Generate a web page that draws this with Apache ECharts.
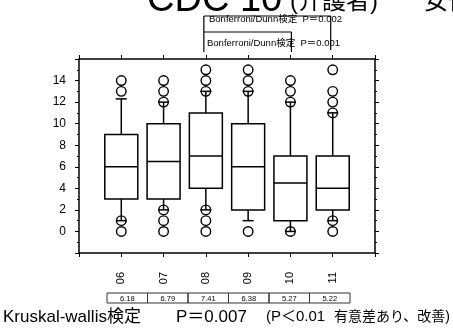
<!DOCTYPE html>
<html><head><meta charset="utf-8">
<script src="https://cdn.jsdelivr.net/npm/echarts@6/dist/echarts.min.js"></script>
<style>html,body{margin:0;padding:0;background:#fff}#c{width:453px;height:331px}</style>
</head><body><div id="c"></div>
<script>
const categories = ['', '06', '07', '08', '09', '10', '11', ''];
const boxLow  = [1, 2, 2, 1, 0, 1];
const boxQ1   = [3, 3, 4, 2, 1, 2];
const boxMed  = [6, 6.5, 7, 6, 4.5, 4];
const boxQ3   = [9, 10, 11, 10, 7, 7];
const boxHigh = [12.3, 12, 13, 13, 12, 11];
const outliers06 = [0, 1, 13, 14];
const outliers07 = [0, 1, 2, 12, 13, 14];
const outliers08 = [0, 1, 2, 13, 14, 15];
const outliers09 = [0, 13, 14, 15];
const outliers10 = [0, 12, 13, 14];
const outliers11 = [0, 1, 11, 12, 13, 15];
const means = ['6.18', '6.79', '7.41', '6.38', '5.27', '5.22'];
const yTicks = [0, 2, 4, 6, 8, 10, 12, 14];
const titleMain = 'CDC 10';
const titleSub = '(介護者)';
const titleSex = '女性';
const test1 = 'Bonferroni/Dunn検定  P＝0.002';
const test2 = 'Bonferroni/Dunn検定  P＝0.001';
const footerParts = ['Kruskal-wallis検定', 'P＝0.007', '(P＜0.01', '有意差あり、改善)'];

const outlierSets = [outliers06, outliers07, outliers08, outliers09, outliers10, outliers11];
const boxData = boxLow.map((v, i) => [i + 1, boxLow[i], boxQ1[i], boxMed[i], boxQ3[i], boxHigh[i]]);
const scatterData = [];
outlierSets.forEach((arr, i) => arr.forEach(v => scatterData.push([i + 1, v])));

const chart = echarts.init(document.getElementById('c'), null, {renderer: 'canvas'});
const axisFont = "'Liberation Sans Narrow','Liberation Sans',Arial,sans-serif";
const lineStyle = {color: '#000', width: 1.5};

chart.setOption({
  animation: false,
  backgroundColor: '#fff',
  grid: {left: 79, right: 78, top: 59, bottom: 78},
  xAxis: [{
    type: 'category', data: categories, boundaryGap: false, position: 'bottom',
    axisLine: {onZero: false, lineStyle: lineStyle},
    axisTick: {show: true, length: 4, lineStyle: {color: '#000', width: 1}},
    axisLabel: {rotate: 90, margin: 19, color: '#000', fontSize: 11, fontFamily: axisFont, interval: 0},
    splitLine: {show: false}
  }, {
    type: 'category', data: categories, boundaryGap: false, position: 'top',
    axisLine: {onZero: false, lineStyle: lineStyle},
    axisTick: {show: true, length: 4, lineStyle: {color: '#000', width: 1}},
    axisLabel: {show: false}, splitLine: {show: false}
  }],
  yAxis: [{
    type: 'value', min: -2, max: 16, interval: 2, position: 'left',
    axisLine: {show: true, onZero: false, lineStyle: lineStyle},
    axisTick: {show: true, length: 4, lineStyle: {color: '#000', width: 1}},
    minorTick: {show: true, splitNumber: 2, length: 2, lineStyle: {color: '#000', width: 1}},
    axisLabel: {margin: 13, color: '#000', fontSize: 12, fontFamily: axisFont,
      formatter: v => yTicks.indexOf(v) >= 0 ? String(v) : ''},
    splitLine: {show: false}
  }, {
    type: 'value', min: -2, max: 16, interval: 2, position: 'right',
    axisLine: {show: true, onZero: false, lineStyle: lineStyle},
    axisTick: {show: true, length: 4, lineStyle: {color: '#000', width: 1}},
    minorTick: {show: true, splitNumber: 2, length: 2, lineStyle: {color: '#000', width: 1}},
    axisLabel: {show: false}, splitLine: {show: false}
  }],
  series: [{
    type: 'custom',
    xAxisIndex: 0, yAxisIndex: 0,
    data: boxData,
    z: 3,
    renderItem: function (params, api) {
      const x = api.value(0);
      const pLow = api.coord([x, api.value(1)]);
      const pQ1 = api.coord([x, api.value(2)]);
      const pMed = api.coord([x, api.value(3)]);
      const pQ3 = api.coord([x, api.value(4)]);
      const pHigh = api.coord([x, api.value(5)]);
      const bw = api.size([1, 0])[0] * 0.78;
      const hw = bw / 2;
      const cw = 5.5;
      const cx = pMed[0];
      const st = {stroke: '#000', lineWidth: 1.5, fill: null};
      return {
        type: 'group',
        children: [
          {type: 'rect', shape: {x: cx - hw, y: pQ3[1], width: bw, height: pQ1[1] - pQ3[1]}, style: {stroke: '#000', lineWidth: 1.5, fill: 'rgba(0,0,0,0)'}},
          {type: 'line', shape: {x1: cx - hw, y1: pMed[1], x2: cx + hw, y2: pMed[1]}, style: st},
          {type: 'line', shape: {x1: cx, y1: pQ3[1], x2: cx, y2: pHigh[1]}, style: st},
          {type: 'line', shape: {x1: cx, y1: pQ1[1], x2: cx, y2: pLow[1]}, style: st},
          {type: 'line', shape: {x1: cx - cw, y1: pHigh[1], x2: cx + cw, y2: pHigh[1]}, style: st},
          {type: 'line', shape: {x1: cx - cw, y1: pLow[1], x2: cx + cw, y2: pLow[1]}, style: st}
        ]
      };
    }
  }, {
    type: 'scatter',
    xAxisIndex: 0, yAxisIndex: 0,
    data: scatterData,
    symbol: 'circle', symbolSize: 9.5, z: 4,
    itemStyle: {color: 'rgba(255,255,255,0)', borderColor: '#000', borderWidth: 1.4, opacity: 1}
  }]
});

// annotations
const px = c => chart.convertToPixel({xAxisIndex: 0}, c);
const x08 = px('08'), x10 = px('10'), x11 = px('11');
const jpFont = "'Liberation Sans','Noto Sans CJK JP',sans-serif";
const g = [];
const L = (x1, y1, x2, y2, w) => g.push({type: 'line', shape: {x1, y1, x2, y2}, style: {stroke: '#000', lineWidth: w || 1.2}, z: 10});
// bracket 1 (08 vs 11)
L(x08 - 2, 16, x11 - 2, 16);
L(x08 - 2, 16, x08 - 2, 52);
L(x11 - 2, 16, x11 - 2, 50);
// bracket 2 (08 vs 10)
L(x08 - 2, 32, x10 + 1, 32);
L(x10 + 1, 32, x10 + 1, 52);
g.push({type: 'text', x: 209, y: 19, z: 9, style: {text: test1, fontSize: 9.5, fontFamily: jpFont, fill: '#000', verticalAlign: 'middle', align: 'left'}});
g.push({type: 'text', x: 207, y: 43, z: 9, style: {text: test2, fontSize: 9.5, fontFamily: jpFont, fill: '#000', verticalAlign: 'middle', align: 'left'}});
// title (cropped at top)
g.push({type: 'text', x: 147, y: 20, style: {text: titleMain, fontSize: 38, fontFamily: jpFont, fill: '#000', verticalAlign: 'bottom', align: 'left'}});
g.push({type: 'text', x: 290, y: 14, style: {text: titleSub, fontSize: 24, fontFamily: jpFont, fill: '#000', verticalAlign: 'bottom', align: 'left'}});
g.push({type: 'text', x: 424, y: 14, style: {text: titleSex, fontSize: 24, fontFamily: jpFont, fill: '#000', verticalAlign: 'bottom', align: 'left'}});
// mean table
const tLeft = 107, tTop = 293, cellW = 40.5, cellH = 10;
means.forEach((m, i) => {
  g.push({type: 'rect', shape: {x: tLeft + i * cellW, y: tTop, width: cellW, height: cellH}, style: {stroke: '#333', lineWidth: 1, fill: 'rgba(0,0,0,0)'}});
  g.push({type: 'text', x: tLeft + i * cellW + cellW / 2, y: tTop + cellH / 2 + 0.5, style: {text: m, fontSize: 7.5, fontFamily: axisFont, fill: '#000', align: 'center', verticalAlign: 'middle'}});
});
// footer
const footX = [3, 176, 266, 450];
const footSize = [17, 17, 15, 14];
const footAlign = ['left', 'left', 'left', 'right'];
footerParts.forEach((t, i) => {
  g.push({type: 'text', x: footX[i], y: 317, style: {text: t, fontSize: footSize[i], fontFamily: jpFont, fill: '#000', verticalAlign: 'middle', align: footAlign[i]}});
});
chart.setOption({graphic: g});
</script></body></html>
